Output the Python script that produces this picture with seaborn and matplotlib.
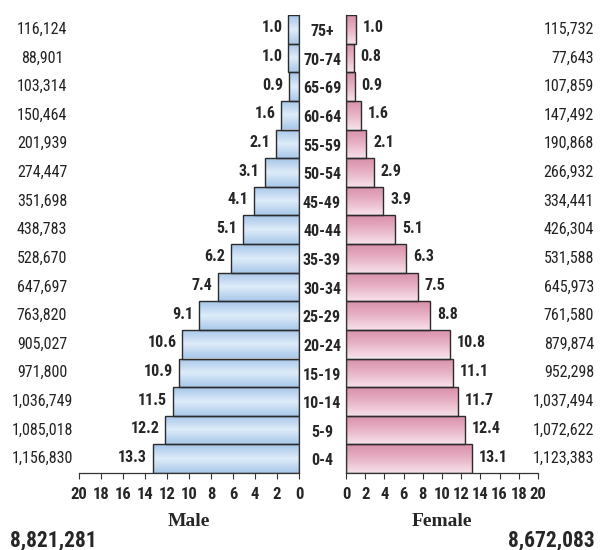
import numpy as np
import pandas as pd
import seaborn as sns
import matplotlib.pyplot as plt
import matplotlib.transforms as mtransforms
from matplotlib.colors import LinearSegmentedColormap

# data, listed from youngest (bottom) to oldest (top)
ages = ['0-4', '5-9', '10-14', '15-19', '20-24', '25-29', '30-34', '35-39',
        '40-44', '45-49', '50-54', '55-59', '60-64', '65-69', '70-74', '75+']
male_pct = [13.3, 12.2, 11.5, 10.9, 10.6, 9.1, 7.4, 6.2, 5.1, 4.1, 3.1, 2.1, 1.6, 0.9, 1.0, 1.0]
female_pct = [13.1, 12.4, 11.7, 11.1, 10.8, 8.8, 7.5, 6.3, 5.1, 3.9, 2.9, 2.1, 1.6, 0.9, 0.8, 1.0]
male_pop = [1156830, 1085018, 1036749, 971800, 905027, 763820, 647697, 528670,
            438783, 351698, 274447, 201939, 150464, 103314, 88901, 116124]
female_pop = [1123383, 1072622, 1037494, 952298, 879874, 761580, 645973, 531588,
              426304, 334441, 266932, 190868, 147492, 107859, 77643, 115732]
male_total = '8,821,281'
female_total = '8,672,083'
ticks = [0, 2, 4, 6, 8, 10, 12, 14, 16, 18, 20]

df = pd.DataFrame({'age': ages, 'male': male_pct, 'female': female_pct})
order = ages[::-1]  # oldest at the top

sns.set_style('white')
narrow = ['Roboto Condensed', 'DejaVu Sans']
plt.rcParams['font.family'] = narrow

W, H = 605, 550
fig = plt.figure(figsize=(W / 100, H / 100), dpi=100)
top, bottom = 15, 473
ax_m = fig.add_axes([79 / W, 1 - bottom / H, 220 / W, (bottom - top) / H])
ax_f = fig.add_axes([346 / W, 1 - bottom / H, 192 / W, (bottom - top) / H])

blue = LinearSegmentedColormap.from_list('b', ['#a6c5e8', '#deecf9', '#a9c8ea'])
pink = LinearSegmentedColormap.from_list('p', ['#d98fab', '#e8b3c6', '#f7e1ea'])

for ax, col, cmap in [(ax_m, 'male', blue), (ax_f, 'female', pink)]:
    sns.barplot(data=df, x=col, y='age', order=order, orient='h', width=1.0,
                color='white', edgecolor='#2b2b2b', linewidth=1.0, ax=ax)
    ax.patch.set_alpha(0)
    ax.set_xlim(0, 20)
    ylim = ax.get_ylim()
    grad = np.linspace(0, 1, 64).reshape(-1, 1)
    for p in ax.patches:
        x0, y0 = p.get_x(), p.get_y()
        w, h = p.get_width(), p.get_height()
        im = ax.imshow(grad, cmap=cmap, aspect='auto', origin='upper',
                       extent=[x0, x0 + w, y0 + h, y0], zorder=p.get_zorder() - 0.1)
        im.set_clip_path(p)
        p.set_facecolor('none')
    ax.set_xlim(0, 20)
    ax.set_ylim(ylim)
    ax.set_xticks(ticks)
    ax.set_xticklabels([str(t) for t in ticks], fontsize=12, fontweight='bold',
                       family=narrow)
    ax.tick_params(axis='x', bottom=True, length=4, width=0.8, pad=6, color='#333333')
    ax.tick_params(axis='y', left=False, labelleft=False)
    ax.set_ylabel('')
    for s in ax.spines.values():
        s.set_color('#333333')
        s.set_linewidth(0.9)
    ax.spines['top'].set_visible(False)

ax_m.invert_xaxis()
ax_m.spines['left'].set_visible(False)
ax_f.spines['right'].set_visible(False)

ax_m.set_xlabel('Male', family='Liberation Serif', fontweight='bold', fontsize=14, labelpad=8)
ax_f.set_xlabel('Female', family='Liberation Serif', fontweight='bold', fontsize=14, labelpad=8)

# percent labels
for i, age in enumerate(order):
    row = df[df['age'] == age].iloc[0]
    ax_m.annotate(f"{row['male']:.1f}", (row['male'], i), xytext=(-4, 1),
                  textcoords='offset points', ha='right', va='center',
                  fontsize=11.5, fontweight='bold')
    ax_f.annotate(f"{row['female']:.1f}", (row['female'], i), xytext=(5, 1),
                  textcoords='offset points', ha='left', va='center',
                  fontsize=11.5, fontweight='bold')

# age labels and population counts (placed in figure x, data y)
tm = mtransforms.blended_transform_factory(fig.transFigure, ax_m.transData)
for i, age in enumerate(order):
    k = ages.index(age)
    fig.text(322 / W, i + 0.08, age, transform=tm, ha='center', va='center',
             fontsize=11.5, fontweight='bold')
    fig.text(42 / W, i, f'{male_pop[k]:,}', transform=tm, ha='center', va='center',
             fontsize=11.5, color='#222222')
    fig.text(594 / W, i, f'{female_pop[k]:,}', transform=tm, ha='right', va='center',
             fontsize=11.5, color='#222222')

fig.text(10 / W, 1 - 540 / H, male_total, ha='left', va='center', fontsize=15.5,
         fontweight='bold')
fig.text(595 / W, 1 - 540 / H, female_total, ha='right', va='center', fontsize=15.5,
         fontweight='bold')

plt.savefig('out.png', dpi=100)
plt.close()
